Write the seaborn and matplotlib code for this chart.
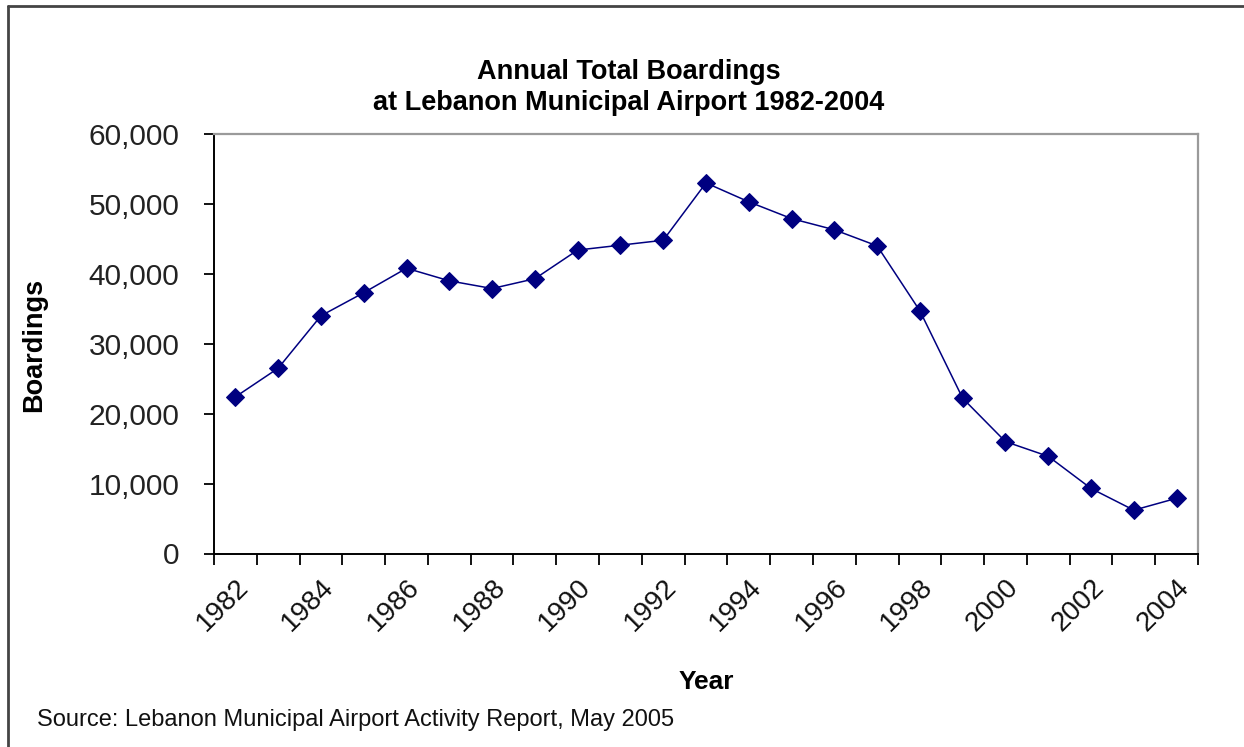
import numpy as np
import pandas as pd
import matplotlib
matplotlib.use("Agg")
import matplotlib.pyplot as plt
import seaborn as sns
from matplotlib.ticker import FuncFormatter
from matplotlib.lines import Line2D

# ---- data ----
years = list(range(1982, 2005))
boardings = [22400, 26500, 34000, 37300, 40800, 39000, 37900, 39300, 43400,
             44100, 44800, 53000, 50300, 47900, 46300, 44000, 34700, 22200,
             16000, 13900, 9300, 6200, 7900]
y_ticks = [0, 10000, 20000, 30000, 40000, 50000, 60000]
x_label_years = years[::2]
title_line1 = "Annual Total Boardings"
title_line2 = "at Lebanon Municipal Airport 1982-2004"
x_title = "Year"
y_title = "Boardings"
source_note = "Source: Lebanon Municipal Airport Activity Report, May 2005"

sns.set_theme(style="white")
plt.rcParams["font.family"] = ["Liberation Sans", "DejaVu Sans"]

W, H = 1244, 747
fig = plt.figure(figsize=(W / 100, H / 100), dpi=100)
fig.patch.set_facecolor("white")

left, right, top, bottom = 214, 1198, 134, 553.5
ax = fig.add_axes([left / W, 1 - bottom / H, (right - left) / W, (bottom - top) / H])

df = pd.DataFrame({"Year": years, "Boardings": boardings})
sns.lineplot(data=df, x="Year", y="Boardings", ax=ax, color="#000080",
             marker="D", markersize=9, markeredgecolor="#000080",
             linewidth=1.1)

ax.set_xlim(1981.5, 2004.5)
ax.set_ylim(0, 60000)
ax.set_yticks(y_ticks)
ax.yaxis.set_major_formatter(FuncFormatter(lambda v, p: f"{int(v):,}"))
ax.set_xticks(x_label_years)
ax.set_xticklabels([str(y) for y in x_label_years], rotation=45,
                   ha="right", rotation_mode="anchor")
ax.set_xticks(np.arange(1981.5, 2005, 1), minor=True)
ax.tick_params(axis="x", which="major", length=0, pad=15, labelsize=20,
               labelcolor="#111111", bottom=True)
ax.tick_params(axis="x", which="minor", length=8, width=1.3, color="black",
               direction="out", bottom=True)
ax.tick_params(axis="y", which="major", length=7, width=1.3, color="black",
               direction="out", left=True, pad=18, labelsize=21.5,
               labelcolor="#222222")
ax.set_xlabel("")
ax.set_ylabel("")
ax.grid(False)

for s in ["left", "bottom"]:
    ax.spines[s].set_color("black")
    ax.spines[s].set_linewidth(1.4)
for s in ["top", "right"]:
    ax.spines[s].set_color("#9a9a9a")
    ax.spines[s].set_linewidth(1.6)

def fx(px):
    return px / W

def fy(py):
    return 1 - py / H

fig.text(fx(629), fy(72), title_line1, ha="center", va="center",
         fontsize=19.5, fontweight="bold", color="black")
fig.text(fx(629), fy(103), title_line2, ha="center", va="center",
         fontsize=19.5, fontweight="bold", color="black")
fig.text(fx(706), fy(682), x_title, ha="center", va="center",
         fontsize=19, fontweight="bold", color="black")
fig.text(fx(34), fy(345), y_title, ha="center", va="center", rotation=90,
         fontsize=19.5, fontweight="bold", color="black")
fig.text(fx(37), fy(720), source_note, ha="left", va="center",
         fontsize=17, color="#111111")

# outer chart border (top and left visible)
fig.add_artist(Line2D([fx(8), fx(8)], [fy(6), 0], transform=fig.transFigure,
                      color="#444444", linewidth=2))
fig.add_artist(Line2D([fx(8), 1], [fy(6), fy(6)], transform=fig.transFigure,
                      color="#444444", linewidth=2))

fig.savefig("out.png", dpi=100)
